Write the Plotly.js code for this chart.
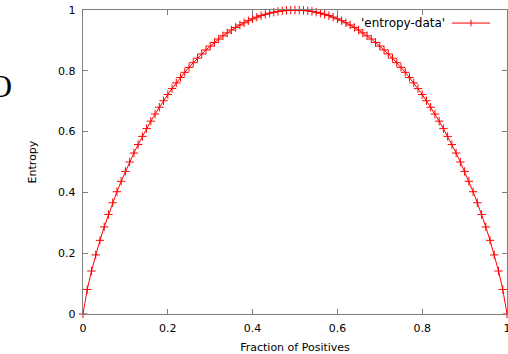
<!DOCTYPE html>
<html>
<head>
<meta charset="utf-8">
<script src="https://cdn.plot.ly/plotly-3.0.1.min.js"></script>
<style>html,body{margin:0;padding:0;background:#fff;}#chart{width:508px;height:354px;}</style>
</head>
<body>
<div id="chart"></div>
<script>
// Fraction of positives (x) and entropy (y)
const fraction = [0.00,0.01,0.02,0.03,0.04,0.05,0.06,0.07,0.08,0.09,
  0.10,0.11,0.12,0.13,0.14,0.15,0.16,0.17,0.18,0.19,
  0.20,0.21,0.22,0.23,0.24,0.25,0.26,0.27,0.28,0.29,
  0.30,0.31,0.32,0.33,0.34,0.35,0.36,0.37,0.38,0.39,
  0.40,0.41,0.42,0.43,0.44,0.45,0.46,0.47,0.48,0.49,
  0.50,0.51,0.52,0.53,0.54,0.55,0.56,0.57,0.58,0.59,
  0.60,0.61,0.62,0.63,0.64,0.65,0.66,0.67,0.68,0.69,
  0.70,0.71,0.72,0.73,0.74,0.75,0.76,0.77,0.78,0.79,
  0.80,0.81,0.82,0.83,0.84,0.85,0.86,0.87,0.88,0.89,
  0.90,0.91,0.92,0.93,0.94,0.95,0.96,0.97,0.98,0.99,1.00];
const entropy = [0.0000,0.0808,0.1414,0.1944,0.2423,0.2864,0.3274,0.3659,0.4022,0.4365,
  0.4690,0.4999,0.5294,0.5574,0.5842,0.6098,0.6343,0.6577,0.6801,0.7015,
  0.7219,0.7415,0.7602,0.7780,0.7950,0.8113,0.8267,0.8415,0.8555,0.8687,
  0.8813,0.8932,0.9044,0.9149,0.9248,0.9341,0.9427,0.9507,0.9580,0.9648,
  0.9710,0.9765,0.9815,0.9858,0.9896,0.9928,0.9954,0.9974,0.9988,0.9997,
  1.0000,0.9997,0.9988,0.9974,0.9954,0.9928,0.9896,0.9858,0.9815,0.9765,
  0.9710,0.9648,0.9580,0.9507,0.9427,0.9341,0.9248,0.9149,0.9044,0.8932,
  0.8813,0.8687,0.8555,0.8415,0.8267,0.8113,0.7950,0.7780,0.7602,0.7415,
  0.7219,0.7015,0.6801,0.6577,0.6343,0.6098,0.5842,0.5574,0.5294,0.4999,
  0.4690,0.4365,0.4022,0.3659,0.3274,0.2864,0.2423,0.1944,0.1414,0.0808,0.0000];
const xTicks = [0,0.2,0.4,0.6,0.8,1];
const xTickLabels = ['0','0.2','0.4','0.6','0.8','1'];
const yTicks = [0,0.2,0.4,0.6,0.8,1];
const yTickLabels = ['0','0.2','0.4','0.6','0.8','1'];
const seriesName = "'entropy-data'";

const red = '#ff0000';
const axisGray = '#7f7f7f';
const family = 'DejaVu Sans, Liberation Sans, Arial, sans-serif';
const font = {family: family, size: 11, color: '#000'};

const trace = {
  x: fraction, y: entropy, type: 'scatter', mode: 'lines+markers',
  name: seriesName, cliponaxis: false,
  line: {color: red, width: 1},
  marker: {symbol: 'cross-thin-open', size: 6, line: {color: red, width: 1}, color: red}
};

const axisCommon = {
  showgrid: false, zeroline: false, showline: true, linecolor: axisGray, linewidth: 1.2,
  mirror: 'ticks', ticks: 'inside', ticklen: 5, tickcolor: axisGray, tickwidth: 1,
  tickfont: font, ticklabeloverflow: 'allow', fixedrange: true
};

const layout = {
  width: 508, height: 354,
  margin: {l: 83, r: 1, t: 10, b: 40},
  paper_bgcolor: '#fff', plot_bgcolor: '#fff',
  showlegend: false,
  font: font,
  xaxis: Object.assign({}, axisCommon, {
    range: [0, 1], tickvals: xTicks, ticktext: xTickLabels, ticklabelstandoff: 4,
    title: {text: 'Fraction of Positives', font: font, standoff: 10}
  }),
  yaxis: Object.assign({}, axisCommon, {
    range: [0, 1], tickvals: yTicks, ticktext: yTickLabels, ticklabelstandoff: 4,
    title: {text: 'Entropy', font: font, standoff: 19}
  }),
  annotations: [
    {xref: 'paper', yref: 'paper', x: 0.858, y: 0.957, xanchor: 'right', yanchor: 'middle',
     text: seriesName, showarrow: false, font: {family: family, size: 12, color: '#000'}},
    {xref: 'paper', yref: 'paper', x: -0.163, y: 0.75, xanchor: 'right', yanchor: 'middle',
     text: 'O', showarrow: false,
     font: {family: 'Liberation Serif, DejaVu Serif, serif', size: 32, color: '#000'}}
  ],
  shapes: [
    {type: 'line', xref: 'paper', yref: 'paper', x0: 0.870, x1: 0.960, y0: 0.957, y1: 0.957,
     line: {color: red, width: 1}},
    {type: 'line', xref: 'paper', yref: 'paper', x0: 0.915, x1: 0.915, y0: 0.946, y1: 0.968,
     line: {color: red, width: 1}}
  ]
};

Plotly.newPlot('chart', [trace], layout, {staticPlot: true, displayModeBar: false});
</script>
</body>
</html>
